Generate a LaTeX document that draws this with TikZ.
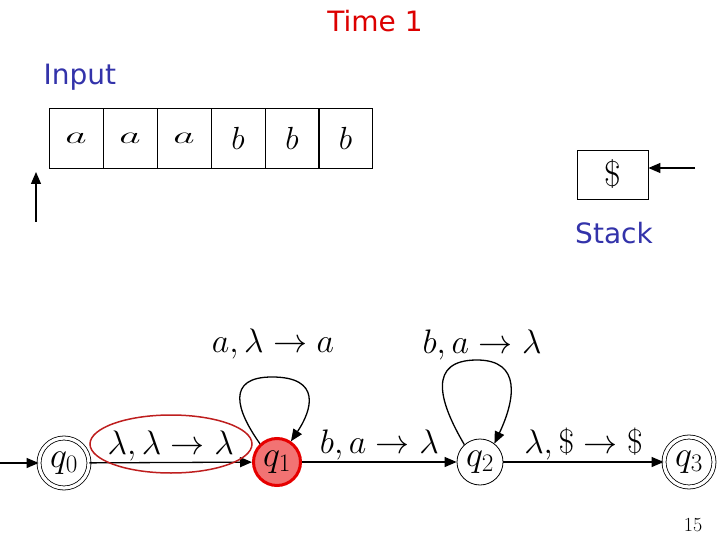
\RequirePackage{fix-cm}
\documentclass[tikz,border=0pt]{standalone}
\usepackage{graphicx}
\usepackage{fontspec}
\newfontfamily\comic{DejaVu Sans}
\usetikzlibrary{arrows.meta,shapes.geometric}
\definecolor{titlered}{RGB}{220,0,0}
\definecolor{labelblue}{RGB}{51,51,170}
\definecolor{statefill}{RGB}{242,115,115}
\definecolor{statered}{RGB}{230,0,0}
\definecolor{ovalred}{RGB}{190,30,30}
\newcommand{\wa}{\scalebox{1.3}[0.75]{$a$}}
\tikzset{
  tapecell/.style={draw, line width=0.8pt, minimum width=54pt, minimum height=60pt, inner sep=0pt, font=\fontsize{32}{36}\selectfont},
  state/.style={circle, draw, line width=0.8pt, minimum size=46pt, inner sep=0pt, font=\fontsize{36}{40}\selectfont},
  accept/.style={state, double, double distance=3.2pt, minimum size=50pt},
  current/.style={state, fill=statefill, draw=statered, line width=3pt, minimum size=47pt},
  edge/.style={line width=1.3pt, -{Triangle[length=12pt,width=10pt]}},
  lbl/.style={font=\fontsize{34}{38}\selectfont, inner sep=1pt},
  comictext/.style={font=\comic\fontsize{28}{32}\selectfont},
}
\begin{document}
\begin{tikzpicture}[x=1pt,y=-1pt]
\useasboundingbox (0,0) rectangle (720,540);
% titles
\node[comictext, text=titlered] (time) at (375,21) {Time 1};
\node[comictext, text=labelblue, anchor=west] (input) at (40,77) {Input};
\node[comictext, text=labelblue] (stacklbl) at (614,233) {Stack};
% tape
\node[tapecell] (c1) at (76,138) {\wa};
\node[tapecell] (c2) at (130,138) {\wa};
\node[tapecell] (c3) at (184,138) {\wa};
\node[tapecell] (c4) at (238,138) {$b$};
\node[tapecell] (c5) at (292,138) {$b$};
\node[tapecell] (c6) at (345.5,138) {$b$};
\coordinate (ha) at (36,222);
\coordinate (hb) at (36,172);
\draw[edge] (ha) -- (hb);
% stack
\node[draw, line width=0.8pt, minimum width=71pt, minimum height=49pt, inner sep=0pt, font=\fontsize{36}{40}\selectfont] (stk) at (612.5,174.5) {\$};
\coordinate (sa) at (695,168);
\draw[edge] (sa) -- (sa -| stk.east);
% states
\node[accept] (q0) at (64,463) {$q_0$};
\node[current] (q1) at (277,462) {$q_1$};
\node[state] (q2) at (480,462) {$q_2$};
\node[accept] (q3) at (689,462) {$q_3$};
\coordinate (start) at (0,463);
\draw[edge] (start) -- (q0);
\draw[edge] (q0) -- node[lbl, above] (l01) {$\lambda,\lambda\to\lambda$} (q1);
\draw[edge] (q1) -- node[lbl, above] (l12) {$b,a\to\lambda$} (q2);
\draw[edge] (q2) -- node[lbl, above] (l23) {$\lambda,\$\to\$$} (q3);
\draw[edge] (q1.133) .. controls (236,410) and (226,377) .. (272,377) .. controls (322,377) and (312,410) .. (q1.56);
\draw[edge] (q2.132) .. controls (438,400) and (428,360) .. (477,360) .. controls (522,360) and (515,400) .. (q2.52);
\node[lbl] (l11) at (273,344) {$a,\lambda\to a$};
\node[lbl] (l22) at (482,345) {$b,a\to\lambda$};
\node[ellipse, draw=ovalred, line width=1.5pt, minimum width=162pt, minimum height=58pt, inner sep=0pt] (oval) at (171,444) {};
\node[font=\fontsize{20}{24}\selectfont] (pg) at (693,525) {15};
\end{tikzpicture}
\end{document}
